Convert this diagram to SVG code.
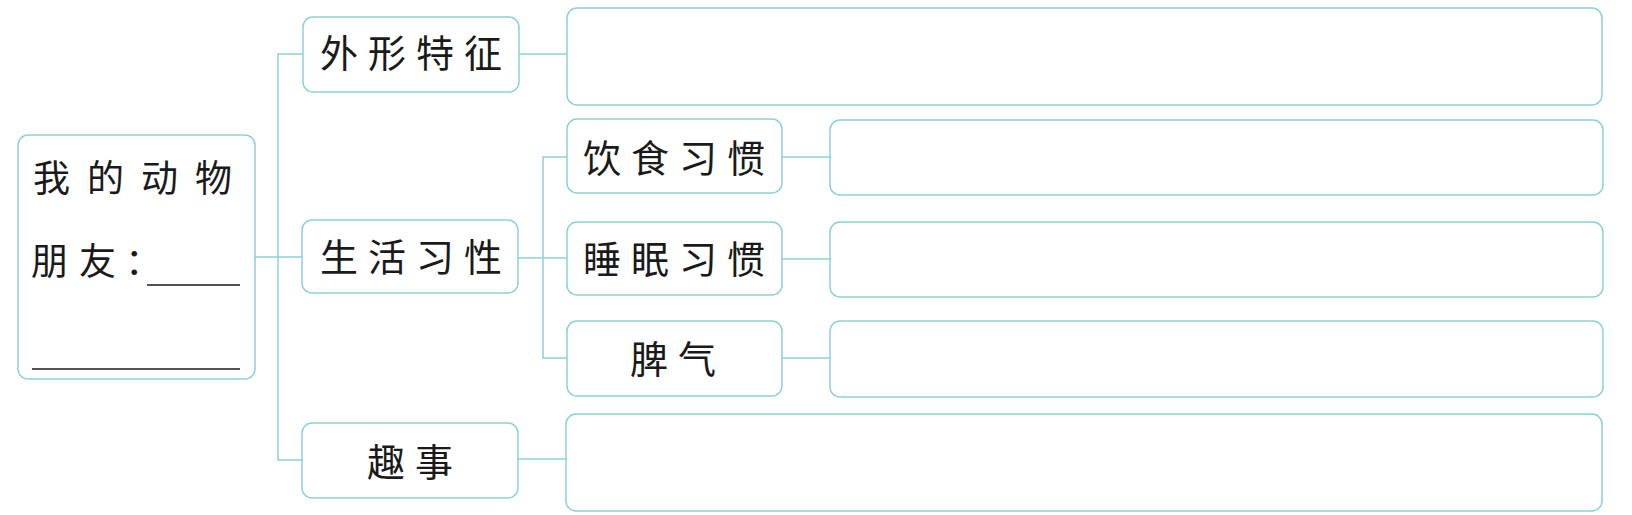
<svg xmlns="http://www.w3.org/2000/svg" width="1632" height="515" viewBox="0 0 1632 515">
<style>
.box{fill:#ffffff;stroke:#8ad4d0;stroke-width:1.5}
.con{fill:none;stroke:#8ad4d0;stroke-width:1.5}
.t{font-family:"Noto Sans CJK SC","Noto Sans CJK TC",sans-serif;font-size:38px;fill:#1a1a1a;letter-spacing:10px}
.lt{font-family:"Noto Sans CJK SC","Noto Sans CJK TC",sans-serif;font-size:37px;fill:#1a1a1a}
.ul{stroke:#1a1a1a;stroke-width:1.6}
</style>
<rect width="1632" height="515" fill="#ffffff"/>
<g id="connectors">
<path class="con" d="M255 257 H302"/>
<path class="con" d="M303 54 H278 V460 H302"/>
<path class="con" d="M519 54 H567"/>
<path class="con" d="M518 459 H566"/>
<path class="con" d="M518 258 H567"/>
<path class="con" d="M567 157 H543 V358 H567"/>
<path class="con" d="M782 157 H830"/>
<path class="con" d="M782 259 H830"/>
<path class="con" d="M782 358 H830"/>
</g>
<g id="root">
<rect class="box" x="18" y="135" width="237" height="244" rx="10"/>
<text class="lt" x="33" y="192" style="letter-spacing:17px">我的动物</text>
<text class="lt" y="275"><tspan x="31">朋</tspan><tspan x="79">友</tspan><tspan x="125">：</tspan></text>
<line class="ul" x1="147" y1="285" x2="240" y2="285"/>
<line class="ul" x1="32" y1="369" x2="240" y2="369"/>
</g>
<g id="n-waixing">
<rect class="box" x="303" y="17" width="216" height="75" rx="10"/>
<text class="t" x="320" y="67">外形特征</text>
</g>
<g id="n-shenghuo">
<rect class="box" x="302" y="220" width="216" height="73" rx="10"/>
<text class="t" x="320" y="271">生活习性</text>
</g>
<g id="n-qushi">
<rect class="box" x="302" y="423" width="216" height="75" rx="10"/>
<text class="t" x="367" y="476">趣事</text>
</g>
<g id="n-yinshi">
<rect class="box" x="567" y="119" width="215" height="74" rx="10"/>
<text class="t" x="583" y="172">饮食习惯</text>
</g>
<g id="n-shuimian">
<rect class="box" x="567" y="222" width="215" height="73" rx="10"/>
<text class="t" x="583" y="273">睡眠习惯</text>
</g>
<g id="n-piqi">
<rect class="box" x="567" y="321" width="215" height="75" rx="10"/>
<text class="t" x="630" y="373">脾气</text>
</g>
<g id="a-waixing"><rect class="box" x="567" y="8" width="1035" height="97" rx="10"/></g>
<g id="a-yinshi"><rect class="box" x="830" y="120" width="773" height="75" rx="10"/></g>
<g id="a-shuimian"><rect class="box" x="830" y="222" width="773" height="75" rx="10"/></g>
<g id="a-piqi"><rect class="box" x="830" y="321" width="773" height="76" rx="10"/></g>
<g id="a-qushi"><rect class="box" x="566" y="414" width="1036" height="97" rx="10"/></g>
</svg>
